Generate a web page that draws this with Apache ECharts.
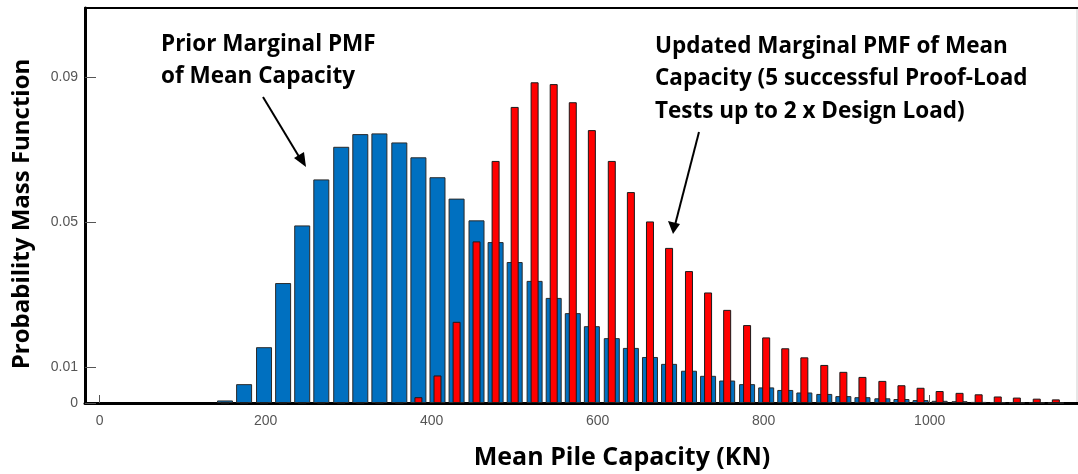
<!DOCTYPE html>
<html>
<head>
<meta charset="utf-8">
<script src="https://cdn.jsdelivr.net/npm/echarts@6/dist/echarts.min.js"></script>
<style>
html,body{margin:0;padding:0;background:#fff;}
#c{width:1078px;height:474px;}
</style>
</head>
<body>
<div id="c"></div>
<script>
// Bin centres (mean pile capacity, kN)
const capacity = [151, 174, 198, 221, 244, 267, 291, 314, 337, 361, 384, 407, 430, 454, 477, 500, 524, 547, 570, 593, 617, 640, 663, 686, 710, 733, 756, 780, 803, 826, 849, 873, 896, 919, 943, 966, 989, 1012, 1036, 1059, 1082, 1105, 1129, 1152];
// Prior marginal PMF of mean capacity (blue)
const priorPMF = [0.0007, 0.0052, 0.0154, 0.0331, 0.0490, 0.0617, 0.0707, 0.0742, 0.0744, 0.0719, 0.0678, 0.0623, 0.0564, 0.0504, 0.0444, 0.0389, 0.0337, 0.0290, 0.0248, 0.0212, 0.0179, 0.0152, 0.0127, 0.0108, 0.0089, 0.0075, 0.0062, 0.0052, 0.0043, 0.0036, 0.0029, 0.0025, 0.0019, 0.0016, 0.0013, 0.0011, 0.0008, 0.0006, 0.0005, 0.0003, 0.0002, 0.0001, 0.0001, 0];
// Updated marginal PMF after proof-load tests (red)
const updatedPMF = [0, 0, 0, 0, 0, 0, 0, 0, 0, 0, 0.0016, 0.0076, 0.0224, 0.0446, 0.0668, 0.0817, 0.0885, 0.0880, 0.0830, 0.0753, 0.0668, 0.0582, 0.0501, 0.0428, 0.0364, 0.0305, 0.0257, 0.0215, 0.0181, 0.0151, 0.0126, 0.0105, 0.0086, 0.0072, 0.0061, 0.0049, 0.0042, 0.0033, 0.0028, 0.0024, 0.0018, 0.0015, 0.0012, 0.0010];
const xTicks = [0, 200, 400, 600, 800, 1000];
const yTicks = [0, 0.01, 0.05, 0.09];

const chart = echarts.init(document.getElementById('c'), null, {renderer: 'canvas'});
const pairs = (ys) => capacity.map((x, i) => [x, ys[i]]);
const xMin = -17.7, xMax = 1178.7;
const labelFont = '"Liberation Sans", Arial, sans-serif';
const boldFont = '"Open Sans", sans-serif';

const baseX = {
  type: 'value', min: xMin, max: xMax,
  splitLine: {show: false}
};

chart.setOption({
  animation: false,
  backgroundColor: '#fff',
  grid: {left: 85, top: 8, right: 0, bottom: 71, show: false},
  xAxis: [
    Object.assign({}, baseX, {
      position: 'bottom',
      axisLine: {show: true, onZero: false, lineStyle: {color: '#000', width: 3}},
      axisTick: {show: true, inside: true, length: 8, customValues: xTicks, lineStyle: {color: '#555', width: 1}},
      axisLabel: {show: true, customValues: xTicks, margin: 11, color: '#555', fontSize: 14, fontFamily: labelFont,
        formatter: (v) => String(v)}
    }),
    Object.assign({}, baseX, {
      position: 'top',
      axisLine: {show: true, onZero: false, lineStyle: {color: '#000', width: 2}},
      axisTick: {show: false}, axisLabel: {show: false}
    })
  ],
  yAxis: {
    type: 'value', min: 0, max: 0.109,
    splitLine: {show: false},
    axisLine: {show: true, onZero: false, lineStyle: {color: '#000', width: 3}},
    axisTick: {show: true, inside: true, length: 11, customValues: yTicks, lineStyle: {color: '#555', width: 1}},
    axisLabel: {show: true, customValues: yTicks, margin: 7, color: '#555', fontSize: 14, fontFamily: labelFont,
      formatter: (v) => v === 0 ? '0' : String(v)}
  },
  series: [
    {
      type: 'bar', xAxisIndex: 0, data: pairs(priorPMF), barWidth: 16,
      itemStyle: {color: '#0070C0', borderColor: '#2a2a2a', borderWidth: 1}
    },
    {
      type: 'bar', xAxisIndex: 1, data: pairs(updatedPMF), barWidth: 8, z: 3,
      itemStyle: {color: '#FF0000', borderColor: '#1a1a1a', borderWidth: 1}
    }
  ],
  graphic: [
    {type: 'text', position: [22, 214], rotation: Math.PI / 2,
      style: {text: 'Probability Mass Function', font: 'bold 24px ' + boldFont, fill: '#000', align: 'center', verticalAlign: 'middle'}},
    {type: 'text', position: [622, 458],
      style: {text: 'Mean Pile Capacity (KN)', font: 'bold 25px ' + boldFont, fill: '#000', align: 'center', verticalAlign: 'middle'}},
    {type: 'text', position: [161, 29],
      style: {text: 'Prior Marginal PMF\nof Mean Capacity', font: 'bold 22.5px ' + boldFont, fill: '#000', lineHeight: 31.5}},
    {type: 'text', position: [655, 30],
      style: {text: 'Updated Marginal PMF of Mean\nCapacity (5 successful Proof-Load\nTests up to 2 x Design Load)', font: 'bold 22.5px ' + boldFont, fill: '#000', lineHeight: 32.5}},
    // arrows
    {type: 'line', shape: {x1: 263, y1: 97, x2: 301, y2: 160}, style: {stroke: '#000', lineWidth: 2}},
    {type: 'polygon', shape: {points: [[306, 167], [294, 158], [304, 152]]}, style: {fill: '#000'}},
    {type: 'line', shape: {x1: 699, y1: 132, x2: 675, y2: 225}, style: {stroke: '#000', lineWidth: 2}},
    {type: 'polygon', shape: {points: [[673, 234], [668, 221], [680, 224]]}, style: {fill: '#000'}},
    {type: 'line', shape: {x1: 1077, y1: 9, x2: 1077, y2: 402}, style: {stroke: '#cfcfcf', lineWidth: 1}}
  ]
});
</script>
</body>
</html>
